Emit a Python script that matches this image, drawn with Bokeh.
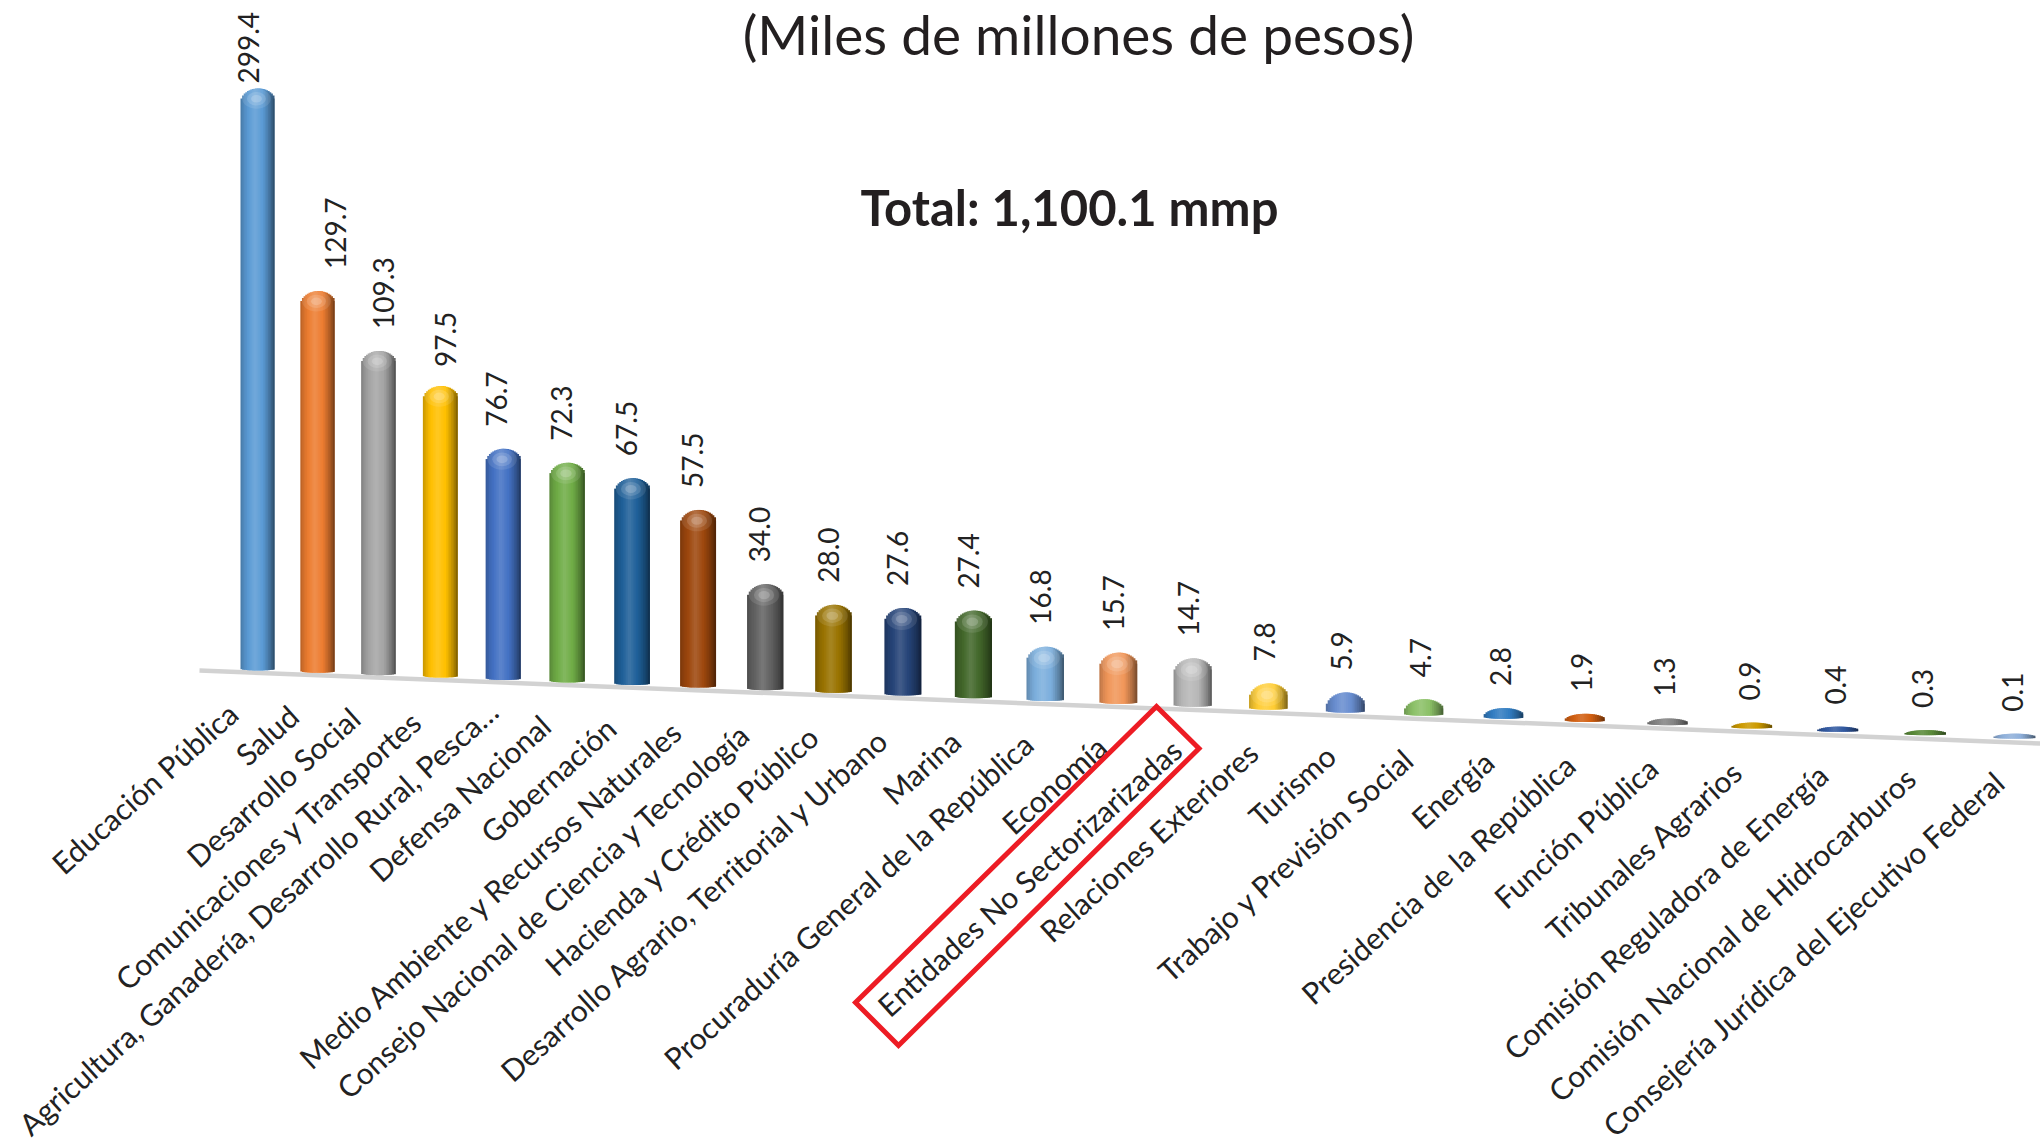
import numpy as np
from bokeh.plotting import figure
from bokeh.models import Range1d, ColumnDataSource
from bokeh.core.properties import value
from bokeh.embed import file_html
from bokeh.resources import INLINE

# ---- data ----
categories = ["Educación Pública", "Salud", "Desarrollo Social", "Comunicaciones y Transportes",
              "Agricultura, Ganadería, Desarrollo Rural, Pesca…", "Defensa Nacional", "Gobernación",
              "Medio Ambiente y Recursos Naturales", "Consejo Nacional de Ciencia y Tecnología",
              "Hacienda y Crédito Público", "Desarrollo Agrario, Territorial y Urbano", "Marina",
              "Procuraduría General de la República", "Economía", "Entidades No Sectorizarizadas",
              "Relaciones Exteriores", "Turismo", "Trabajo y Previsión Social", "Energía",
              "Presidencia de la República", "Función Pública", "Tribunales Agrarios",
              "Comisión Reguladora de Energía", "Comisión Nacional de Hidrocarburos",
              "Consejería Jurídica del Ejecutivo Federal"]
values = [299.4, 129.7, 109.3, 97.5, 76.7, 72.3, 67.5, 57.5, 34.0, 28.0, 27.6, 27.4, 16.8,
          15.7, 14.7, 7.8, 5.9, 4.7, 2.8, 1.9, 1.3, 0.9, 0.4, 0.3, 0.1]
colors = ["#5B9BD5", "#ED7D31", "#A5A5A5", "#FFC000", "#4472C4", "#70AD47", "#1F6099", "#9E480E",
          "#636363", "#997300", "#264478", "#43682B", "#7CAFDD", "#F1975A", "#B7B7B7", "#FFCD33",
          "#698ED0", "#8CC168", "#327DC2", "#D26012", "#848484", "#CC9A00", "#335AA1", "#5A8A39",
          "#8FB0DA"]
title_text = "(Miles de millones de pesos)"
total_text = "Total: 1,100.1 mmp"

# ---- perspective projection of the 3-D chart ----
FONT = "Lato"
INK = "#222222"
AXIS_CUT = 199.3      # the first bar is drawn shortened in the reference
X0, DX, PERSP = 257.0, 59.5, 0.0078
Y0, FLOOR_SLOPE = 670.0, 0.0388
UNIT = 2.92           # pixels per thousand-million pesos at the front
MIN_THICK = 5.0
BAR_W = 34.0
N = 21


def depth(i):
    return 1.0 / (1.0 - PERSP * i)


idx = np.arange(len(values))
vals = np.minimum(np.array(values, dtype=float), AXIS_CUT)
cx = X0 + DX * idx * depth(idx)
floor = Y0 + FLOOR_SLOPE * (cx - X0)
bar_h = np.sqrt((vals * UNIT * depth(idx)) ** 2 + MIN_THICK ** 2)
bar_w = BAR_W * depth(idx)
tops = floor - bar_h


def rgb(hexc):
    return np.array([int(hexc[k:k + 2], 16) for k in (1, 3, 5)], dtype=float)


def shade(hexc, u):
    f = np.interp(u, [-1, -0.75, -0.15, 0.35, 0.75, 1], [0.78, 0.92, 1.14, 0.98, 0.72, 0.48])
    c = rgb(hexc)
    c = c * f if f <= 1 else c + (255 - c) * (f - 1) * 1.0
    c = np.clip(c, 0, 255).astype(int)
    return "#%02x%02x%02x" % tuple(c)


L, R, T, B, C = [], [], [], [], []
edges = np.linspace(-1, 1, N + 1)
mids = (edges[:-1] + edges[1:]) / 2
for i in idx:
    cap = min(0.42 * bar_w[i], 0.8 * bar_h[i])
    sole = min(1.8, 0.2 * bar_h[i])
    for k, u in enumerate(mids):
        arc = np.sqrt(1 - u * u)
        L.append(cx[i] + edges[k] * bar_w[i] / 2)
        # each strip runs on under its right-hand neighbour, so no seam shows
        R.append(cx[i] + edges[min(k + 2, N)] * bar_w[i] / 2)
        T.append(tops[i] + cap * (1 - arc))
        B.append(floor[i] - sole + sole * arc)
        C.append(shade(colors[i], u))

p = figure(width=2040, height=1143, output_backend="svg", toolbar_location=None,
           x_range=Range1d(0, 2040), y_range=Range1d(1143, 0),
           min_border=0, outline_line_color=None, background_fill_color="white",
           border_fill_color="white")
p.xaxis.visible = False
p.yaxis.visible = False
p.grid.visible = False

# floor line of the 3-D chart
xl = np.array([199.0, 2040.0])
p.line(xl, 670 + (xl - 199) * 0.0397, line_color="#d2d2d2", line_width=4.5)

# cylinders
p.quad(left="l", right="r", top="t", bottom="b", fill_color="c", line_color=None,
       source=ColumnDataSource(dict(l=L, r=R, t=T, b=B, c=C)))

# highlight on domes
for scale, alpha in ((0.42, 0.10), (0.28, 0.14), (0.16, 0.18)):
    use = bar_h > 25
    p.ellipse(x=cx[use] - 0.03 * bar_w[use], y=tops[use] + 0.30 * bar_w[use],
              width=bar_w[use] * scale * 2, height=bar_w[use] * scale * 1.4,
              fill_color="white", fill_alpha=alpha, line_color=None)

# value labels
dx = -7 + 5 * idx / 24
gap = np.full(len(values), 22.0)
dx[:4] = [-9, 18, 5, 5]
gap[0], gap[3] = 5, 19
p.text(x=cx + dx, y=tops - gap, text=["%.1f" % v for v in values], angle=np.pi / 2,
       text_font=value(FONT), text_font_size="28px", text_color=INK,
       text_align="left", text_baseline="middle")

# category labels
label_dx = -15 - 10 * np.clip(1 - idx / 16, 0, 1)
label_dy = np.full(len(values), 38.0)
label_dx[4] += 12
label_dy[4] -= 12
p.text(x=cx + label_dx, y=floor + label_dy, text=categories, angle=np.deg2rad(42.0),
       text_font=value(FONT), text_font_size="30px", text_color=INK,
       text_align="right", text_baseline="middle")

# titles
p.text(x=[1078], y=[33], text=[title_text], text_font=value(FONT), text_font_size="55px",
       text_color="#231f20", text_align="center", text_baseline="middle")
p.text(x=[1069], y=[206], text=[total_text], text_font=value(FONT), text_font_size="49px",
       text_font_style="bold", text_color="#231f20", text_align="center", text_baseline="middle")

# red highlight box around "Entidades No Sectorizarizadas"
p.patch([1156, 1198.5, 898, 855], [706, 748, 1045, 1002], fill_color=None,
        line_color="#ed1c24", line_width=5, line_join="miter")

open("out.html", "w").write(file_html(p, INLINE))
